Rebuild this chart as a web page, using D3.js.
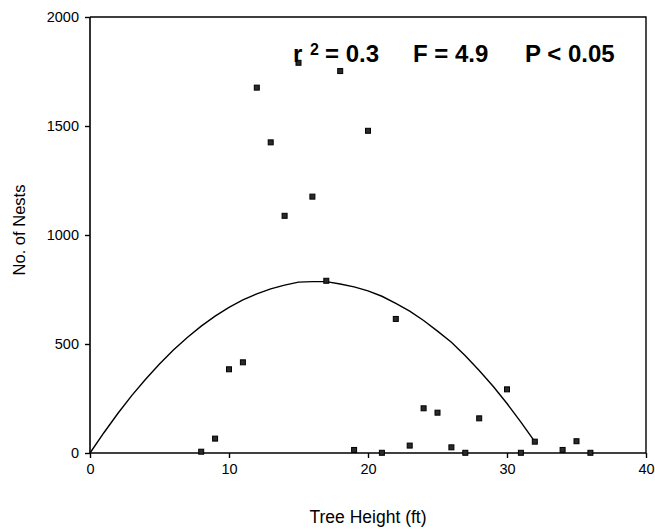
<!DOCTYPE html>
<html>
<head>
<meta charset="utf-8">
<script src="https://cdn.jsdelivr.net/npm/d3@7"></script>
<style>
  html, body { margin: 0; padding: 0; background: #fff; }
  svg { display: block; font-family: "Liberation Sans", Arial, sans-serif; }
</style>
</head>
<body>
<svg id="chart" width="655" height="531"></svg>
<script>
// Nest counts by tree height
const heights = [8, 9, 10, 11, 12, 13, 14, 15, 16, 17, 18, 19, 20, 21, 22, 23, 24, 25, 26, 27, 28, 30, 31, 32, 34, 35, 36];
const nests   = [6, 66, 384, 416, 1676, 1425, 1088, 1790, 1176, 790, 1752, 14, 1478, 1, 615, 34, 205, 185, 26, 1, 159, 292, 1, 52, 14, 54, 1];

// Fitted quadratic trend line
const fitX = [0, 1, 2, 3, 4, 5, 6, 7, 8, 9, 10, 11, 12, 13, 14, 15, 16, 17, 18, 19, 20, 21, 22, 23, 24, 25, 26, 27, 28, 29, 30, 31, 32];
const fitY = [0, 93, 181, 263, 338, 408, 472, 530, 582, 628, 668, 702, 730, 753, 770, 784, 786, 786, 775, 762, 744, 719, 686, 651, 608, 559, 508, 446, 378, 306, 227, 142, 52];

const xTicks = [0, 10, 20, 30, 40];
const yTicks = [0, 500, 1000, 1500, 2000];

const statParts = [
  { text: "r", x: 293, y: 62, size: 24 },
  { text: "2", x: 310, y: 55, size: 16 },
  { text: "= 0.3", x: 325, y: 62, size: 24 },
  { text: "F = 4.9", x: 413, y: 62, size: 24 },
  { text: "P < 0.05", x: 525, y: 62, size: 24 }
];

const svg = d3.select("#chart");
const plotLeft = 90, plotRight = 646, plotTop = 17, plotBottom = 453;

const x = d3.scaleLinear().domain([0, 40]).range([plotLeft, plotRight]);
const y = d3.scaleLinear().domain([0, 2000]).range([plotBottom, plotTop]);

// frame: top and right edges
svg.append("path")
  .attr("d", `M${plotLeft},${plotTop}H${plotRight}V${plotBottom}`)
  .attr("fill", "none")
  .attr("stroke", "#000")
  .attr("stroke-width", 1.4);

// axes
const xAxis = svg.append("g")
  .attr("transform", `translate(0,${plotBottom})`)
  .call(d3.axisBottom(x).tickValues(xTicks).tickSize(5).tickPadding(6).tickFormat(d3.format("d")));
const yAxis = svg.append("g")
  .attr("transform", `translate(${plotLeft},0)`)
  .call(d3.axisLeft(y).tickValues(yTicks).tickSize(5).tickPadding(6).tickFormat(d3.format("d")));

[xAxis, yAxis].forEach(g => {
  g.select(".domain").attr("stroke", "#000").attr("stroke-width", 1.6);
  g.selectAll(".tick line").attr("stroke", "#000").attr("stroke-width", 1.4);
  g.selectAll(".tick text")
    .attr("fill", "#000")
    .style("font-size", "14.5px")
    .style("font-family", "'Liberation Sans', Arial, sans-serif");
});
// plain axis lines without the outer tick stubs
xAxis.select(".domain").attr("d", `M${plotLeft},0H${plotRight}`);
yAxis.select(".domain").attr("d", `M0,${plotBottom}V${plotTop}`);

// trend line
const line = d3.line().x(d => x(d[0])).y(d => y(d[1]));
svg.append("path")
  .datum(fitX.map((v, i) => [v, fitY[i]]))
  .attr("d", line)
  .attr("fill", "none")
  .attr("stroke", "#000")
  .attr("stroke-width", 1.4);

// observations
const size = 5;
svg.append("g")
  .selectAll("rect")
  .data(heights.map((h, i) => [h, nests[i]]))
  .join("rect")
  .attr("x", d => x(d[0]) - size / 2)
  .attr("y", d => y(d[1]) - size / 2)
  .attr("width", size)
  .attr("height", size)
  .attr("fill", "#2a2a2a")
  .attr("stroke", "#000")
  .attr("stroke-width", 1);

// axis titles
svg.append("text")
  .attr("x", (plotLeft + plotRight) / 2)
  .attr("y", 523)
  .attr("text-anchor", "middle")
  .style("font-size", "17.5px")
  .text("Tree Height (ft)");

svg.append("text")
  .attr("transform", `translate(25,230) rotate(-90)`)
  .attr("text-anchor", "middle")
  .style("font-size", "16.5px")
  .text("No. of Nests");

// regression statistics
svg.append("g")
  .selectAll("text")
  .data(statParts)
  .join("text")
  .attr("x", d => d.x)
  .attr("y", d => d.y)
  .style("font-size", d => d.size + "px")
  .style("font-weight", "bold")
  .text(d => d.text);
</script>
</body>
</html>
